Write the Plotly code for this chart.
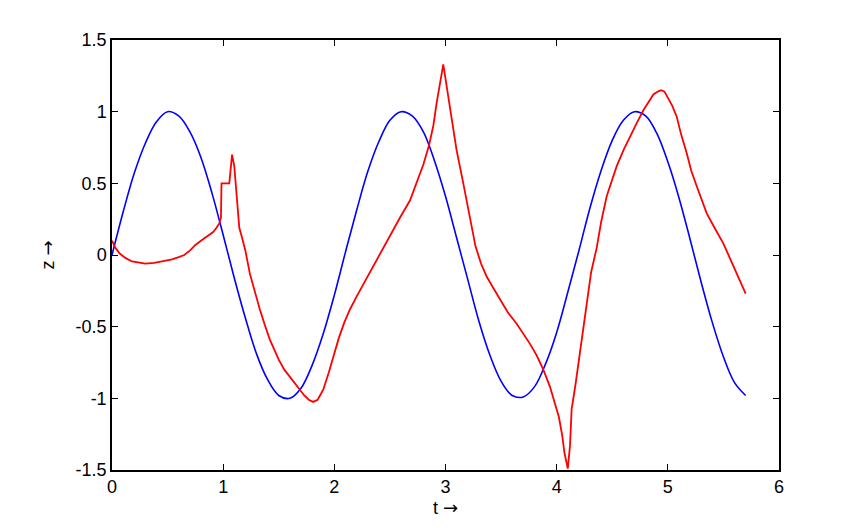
import plotly.graph_objects as go

# blue trace: smooth oscillation, read every 0.1 in t
t_blue = [round(0.1 * i, 1) for i in range(58)]
z_blue = [0.00, 0.30, 0.57, 0.78, 0.93, 1.00, 0.97, 0.86, 0.68, 0.43,
          0.14, -0.16, -0.44, -0.69, -0.87, -0.98, -1.00, -0.93, -0.77, -0.55,
          -0.28, 0.02, 0.31, 0.58, 0.79, 0.94, 1.00, 0.97, 0.86, 0.66,
          0.41, 0.12, -0.17, -0.46, -0.70, -0.88, -0.98, -0.99, -0.92, -0.76,
          -0.54, -0.26, 0.03, 0.33, 0.59, 0.80, 0.94, 1.00, 0.97, 0.85,
          0.65, 0.40, 0.11, -0.19, -0.47, -0.71, -0.89, -0.98]

# red trace
t_red = [0.00, 0.03, 0.07, 0.12, 0.18, 0.24, 0.30, 0.38, 0.46, 0.54,
         0.60, 0.65, 0.70, 0.75, 0.80, 0.86, 0.91, 0.94, 0.965, 0.98,
         0.985, 1.055, 1.08, 1.10, 1.13, 1.145, 1.17, 1.20, 1.24, 1.29,
         1.33, 1.38, 1.42, 1.46, 1.50, 1.55, 1.60, 1.65, 1.69, 1.73,
         1.77, 1.81, 1.85, 1.90, 1.95, 1.99, 2.04, 2.09, 2.14, 2.20,
         2.27, 2.35, 2.42, 2.50, 2.59, 2.68, 2.74, 2.80, 2.85, 2.89,
         2.92, 2.95, 2.98, 3.01, 3.04, 3.07, 3.10, 3.16, 3.22, 3.27,
         3.32, 3.37, 3.43, 3.49, 3.56, 3.64, 3.70, 3.76, 3.82, 3.88,
         3.94, 3.98, 4.02, 4.05, 4.07, 4.10, 4.12, 4.135, 4.14, 4.17,
         4.195, 4.23, 4.27, 4.31, 4.36, 4.40, 4.45, 4.50, 4.54, 4.60,
         4.66, 4.72, 4.78, 4.83, 4.87, 4.91, 4.94, 4.97, 5.00, 5.04,
         5.08, 5.12, 5.17, 5.21, 5.26, 5.30, 5.35, 5.42, 5.50, 5.58,
         5.65, 5.70]
z_red = [0.10, 0.05, 0.01, -0.02, -0.045, -0.055, -0.06, -0.055, -0.045, -0.03,
         -0.015, 0.00, 0.03, 0.07, 0.10, 0.13, 0.16, 0.19, 0.22, 0.26,
         0.50, 0.50, 0.70, 0.62, 0.30, 0.19, 0.12, 0.03, -0.13, -0.28,
         -0.38, -0.50, -0.59, -0.66, -0.73, -0.80, -0.85, -0.90, -0.94, -0.98,
         -1.01, -1.025, -1.01, -0.94, -0.82, -0.71, -0.58, -0.47, -0.38, -0.29,
         -0.19, -0.08, 0.02, 0.13, 0.26, 0.38, 0.50, 0.63, 0.76, 0.90,
         1.06, 1.20, 1.33, 1.18, 1.03, 0.88, 0.73, 0.50, 0.27, 0.06,
         -0.06, -0.15, -0.23, -0.31, -0.40, -0.48, -0.55, -0.62, -0.70, -0.80,
         -0.92, -1.02, -1.13, -1.26, -1.38, -1.49, -1.33, -1.07, -1.05, -0.90,
         -0.76, -0.54, -0.31, -0.12, 0.05, 0.23, 0.41, 0.53, 0.62, 0.73,
         0.83, 0.92, 1.01, 1.07, 1.12, 1.14, 1.15, 1.14, 1.10, 1.04,
         0.965, 0.84, 0.71, 0.59, 0.48, 0.39, 0.29, 0.19, 0.08, -0.06,
         -0.19, -0.27]

x_ticks = [0, 1, 2, 3, 4, 5, 6]
y_ticks = [-1.5, -1, -0.5, 0, 0.5, 1, 1.5]
y_labels = ["-1.5", "-1", "-0.5", "0", "0.5", "1", "1.5"]

FONT = "Liberation Sans, Arial"
ARROW = "<span style='font-family:DejaVu Sans'>\u2192</span>"

fig = go.Figure()

fig.add_trace(go.Scatter(
    x=t_blue, y=z_blue, mode="lines",
    line=dict(color="#0000ff", width=1.6, shape="spline"),
))
fig.add_trace(go.Scatter(
    x=t_red, y=z_red, mode="lines",
    line=dict(color="#ff0000", width=1.8),
))

axis_style = dict(
    showline=True, linecolor="black", linewidth=1.5, mirror="ticks",
    ticks="inside", ticklen=6, tickwidth=1, tickcolor="black",
    showgrid=False, zeroline=False,
    tickfont=dict(family=FONT, size=18, color="black"),
)

# page body adds an 8px offset, so margins are shifted to compensate
fig.update_layout(
    width=861, height=529,
    margin=dict(l=104, r=90, t=32, b=67),
    plot_bgcolor="white",
    paper_bgcolor="white",
    showlegend=False,
    xaxis=dict(range=[0, 6], tickvals=x_ticks, title=dict(
        text="t " + ARROW, standoff=4,
        font=dict(family=FONT, size=18, color="black")),
        **axis_style),
    yaxis=dict(range=[-1.5, 1.5], tickvals=y_ticks, ticktext=y_labels, title=dict(
        text="z " + ARROW, standoff=16,
        font=dict(family=FONT, size=18, color="black")),
        **axis_style),
)

fig.write_html("out.html")
